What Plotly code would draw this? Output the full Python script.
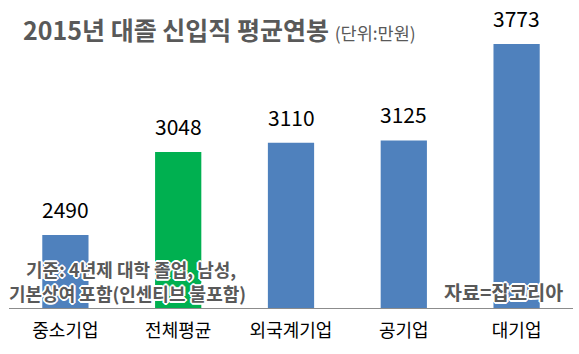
import plotly.graph_objects as go

categories = ["중소기업", "전체평균", "외국계기업", "공기업", "대기업"]
salaries = [2490, 3048, 3110, 3125, 3773]
bar_colors = ["#4F81BD", "#00B050", "#4F81BD", "#4F81BD", "#4F81BD"]

FONT = "Noto Sans CJK KR"
GRAY = "#595959"
halo = "-1px -1px 0 #fff, 1px -1px 0 #fff, -1px 1px 0 #fff, 1px 1px 0 #fff, 0 2px 0 #fff, 0 -2px 0 #fff, 2px 0 0 #fff, -2px 0 0 #fff"

fig = go.Figure()
fig.add_trace(go.Bar(
    x=categories, y=salaries, marker=dict(color=bar_colors, line=dict(width=0)),
    width=0.41,
))

for c, v in zip(categories, salaries):
    fig.add_annotation(x=c, y=v, text=str(v), showarrow=False, yanchor="bottom",
                       yshift=9, font=dict(family=FONT, size=21, color="#000000"))

fig.add_annotation(xref="paper", yref="paper", x=0.028, y=0.134, xanchor="left", yanchor="middle",
                   text="<b>기준: 4년제 대학 졸업, 남성,</b>", showarrow=False, borderpad=0,
                   font=dict(family=FONT, size=18, color=GRAY, shadow=halo))
fig.add_annotation(xref="paper", yref="paper", x=-0.002, y=0.052, xanchor="left", yanchor="middle",
                   text="<b>기본상여 포함(인센티브 불포함)</b>", showarrow=False, borderpad=0,
                   font=dict(family=FONT, size=18, color=GRAY, shadow=halo))
fig.add_annotation(xref="paper", yref="paper", x=0.986, y=0.0556, xanchor="right", yanchor="middle",
                   text="<b>자료=잡코리아</b>", showarrow=False,
                   font=dict(family=FONT, size=19.5, color=GRAY, shadow=halo))

fig.add_annotation(xref="paper", yref="paper", x=0.021, y=0.969, xanchor="left", yanchor="middle",
                   text="<b>2015년 대졸 신입직 평균연봉</b> <span style='font-size:17.5px'>(단위:만원)</span>",
                   showarrow=False, font=dict(family=FONT, size=25, color=GRAY))

fig.update_layout(
    width=579, height=354,
    margin=dict(l=9, r=6, t=20, b=46),
    paper_bgcolor="white", plot_bgcolor="white",
    showlegend=False,
    bargap=0.59,
    xaxis=dict(showline=True, linecolor="#8C8C8C", linewidth=1, ticks="",
               ticklabelstandoff=6,
               tickfont=dict(family=FONT, size=18, color="#000000"), showgrid=False),
    yaxis=dict(range=[2000, 3934], visible=False, showgrid=False),
)

fig.write_html("out.html")
